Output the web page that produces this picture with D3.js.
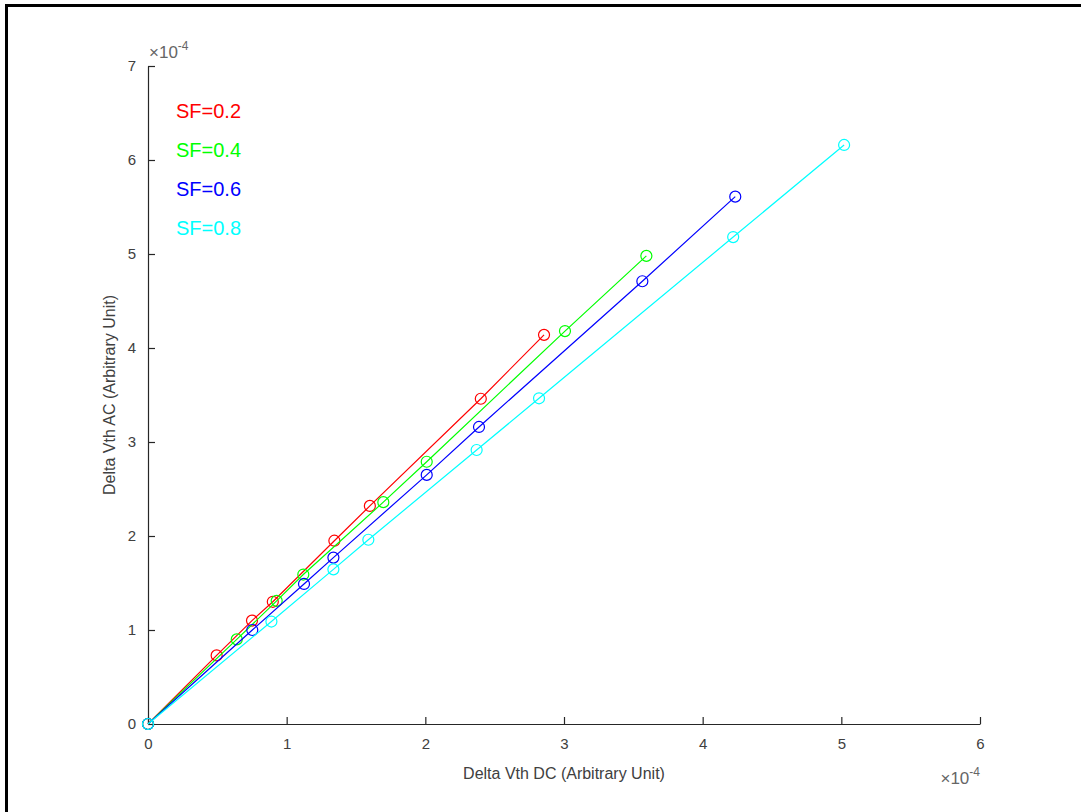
<!DOCTYPE html>
<html lang="en">
  <head>
    <meta charset="UTF-8" />
    <title>Delta Vth AC vs DC</title>
    <script src="https://d3js.org/d3.v7.min.js"></script>
    <style>
      body {
        margin: 0;
        padding: 0;
        background: #fff;
        font-family: "Liberation Sans", Arial, sans-serif;
      }
      .axis path,
      .axis line {
        stroke: #262626;
        stroke-width: 1.2;
      }
      .axis text {
        fill: #404040;
        font-size: 15px;
        font-family: "Liberation Sans", Arial, sans-serif;
      }
      .axis-label {
        fill: #404040;
        font-size: 16px;
      }
      .expo {
        fill: #666;
        font-size: 17px;
      }
    </style>
  </head>
  <body>
    <div id="chart"></div>
    <script>
      // values in units of 1e-4
      const seriesNames = ["SF=0.2", "SF=0.4", "SF=0.6", "SF=0.8"];
      const seriesColors = ["#ff0000", "#00ff00", "#0000ff", "#00ffff"];

      const dcSF02 = [0, 0.495, 0.75, 0.9, 1.344, 1.6, 2.4, 2.856];
      const acSF02 = [0, 0.73, 1.1, 1.3, 1.95, 2.32, 3.46, 4.14];

      const dcSF04 = [0, 0.64, 0.928, 1.12, 1.697, 2.01, 3.007, 3.594];
      const acSF04 = [0, 0.9, 1.31, 1.59, 2.36, 2.79, 4.18, 4.98];

      const dcSF06 = [0, 0.752, 1.125, 1.337, 2.01, 2.387, 3.565, 4.235];
      const acSF06 = [0, 1.0, 1.49, 1.77, 2.65, 3.16, 4.71, 5.61];

      const dcSF08 = [0, 0.89, 1.337, 1.589, 2.37, 2.82, 4.22, 5.02];
      const acSF08 = [0, 1.09, 1.645, 1.96, 2.915, 3.465, 5.18, 6.16];

      const xTicks = [0, 1, 2, 3, 4, 5, 6];
      const yTicks = [0, 1, 2, 3, 4, 5, 6, 7];

      const dcAll = [dcSF02, dcSF04, dcSF06, dcSF08];
      const acAll = [acSF02, acSF04, acSF06, acSF08];

      const width = 1081;
      const height = 812;
      const margin = { top: 66, right: 101, bottom: 88, left: 148 };
      const innerW = width - margin.left - margin.right;
      const innerH = height - margin.top - margin.bottom;

      const svg = d3
        .select("#chart")
        .append("svg")
        .attr("width", width)
        .attr("height", height);

      // outer frame (top and left edges visible)
      svg
        .append("path")
        .attr("d", `M6.5,${height} L6.5,5.5 L${width},5.5`)
        .attr("fill", "none")
        .attr("stroke", "#000")
        .attr("stroke-width", 3);

      const g = svg
        .append("g")
        .attr("transform", `translate(${margin.left}, ${margin.top})`);

      const x = d3.scaleLinear().domain([0, 6]).range([0, innerW]);
      const y = d3.scaleLinear().domain([0, 7]).range([innerH, 0]);

      // axes with inward ticks
      const xAxis = g
        .append("g")
        .attr("class", "axis")
        .attr("transform", `translate(0, ${innerH})`)
        .call(
          d3
            .axisBottom(x)
            .tickValues(xTicks)
            .tickFormat(d3.format("d"))
            .tickSizeInner(-7)
            .tickSizeOuter(0)
            .tickPadding(14)
        );
      xAxis.selectAll("text").attr("dy", "0.71em");

      g.append("g")
        .attr("class", "axis")
        .call(
          d3
            .axisLeft(y)
            .tickValues(yTicks)
            .tickFormat(d3.format("d"))
            .tickSizeInner(-7)
            .tickSizeOuter(0)
            .tickPadding(12)
        );

      // exponent labels
      const yExp = g.append("text").attr("class", "expo").attr("x", 1).attr("y", -8);
      yExp.append("tspan").text("\u00d710");
      yExp.append("tspan").attr("dy", -8).attr("font-size", "12px").text("-4");

      const xExp = g
        .append("text")
        .attr("class", "expo")
        .attr("x", innerW)
        .attr("y", innerH + 60)
        .attr("text-anchor", "end");
      xExp.append("tspan").text("\u00d710");
      xExp.append("tspan").attr("dy", -8).attr("font-size", "12px").text("-4");

      // axis labels
      g.append("text")
        .attr("class", "axis-label")
        .attr("x", innerW / 2)
        .attr("y", innerH + 55)
        .attr("text-anchor", "middle")
        .text("Delta Vth DC (Arbitrary Unit)");

      g.append("text")
        .attr("class", "axis-label")
        .attr("transform", `translate(-33, ${innerH / 2}) rotate(-90)`)
        .attr("text-anchor", "middle")
        .text("Delta Vth AC (Arbitrary Unit)");

      const line = d3
        .line()
        .x((d) => x(d[0]))
        .y((d) => y(d[1]));

      seriesNames.forEach((name, i) => {
        const pts = dcAll[i].map((v, j) => [v, acAll[i][j]]);
        g.append("path")
          .datum(pts)
          .attr("d", line)
          .attr("fill", "none")
          .attr("stroke", seriesColors[i])
          .attr("stroke-width", 1.2);

        g.append("g")
          .selectAll("circle")
          .data(pts)
          .enter()
          .append("circle")
          .attr("cx", (d) => x(d[0]))
          .attr("cy", (d) => y(d[1]))
          .attr("r", 5.5)
          .attr("fill", "none")
          .attr("stroke", seriesColors[i])
          .attr("stroke-width", 1.2);
      });

      // text legend
      g.append("g")
        .selectAll("text")
        .data(seriesNames)
        .enter()
        .append("text")
        .attr("x", 28)
        .attr("y", (d, i) => 52 + i * 39)
        .attr("fill", (d, i) => seriesColors[i])
        .attr("font-size", "20px")
        .text((d) => d);
    </script>
  </body>
</html>
